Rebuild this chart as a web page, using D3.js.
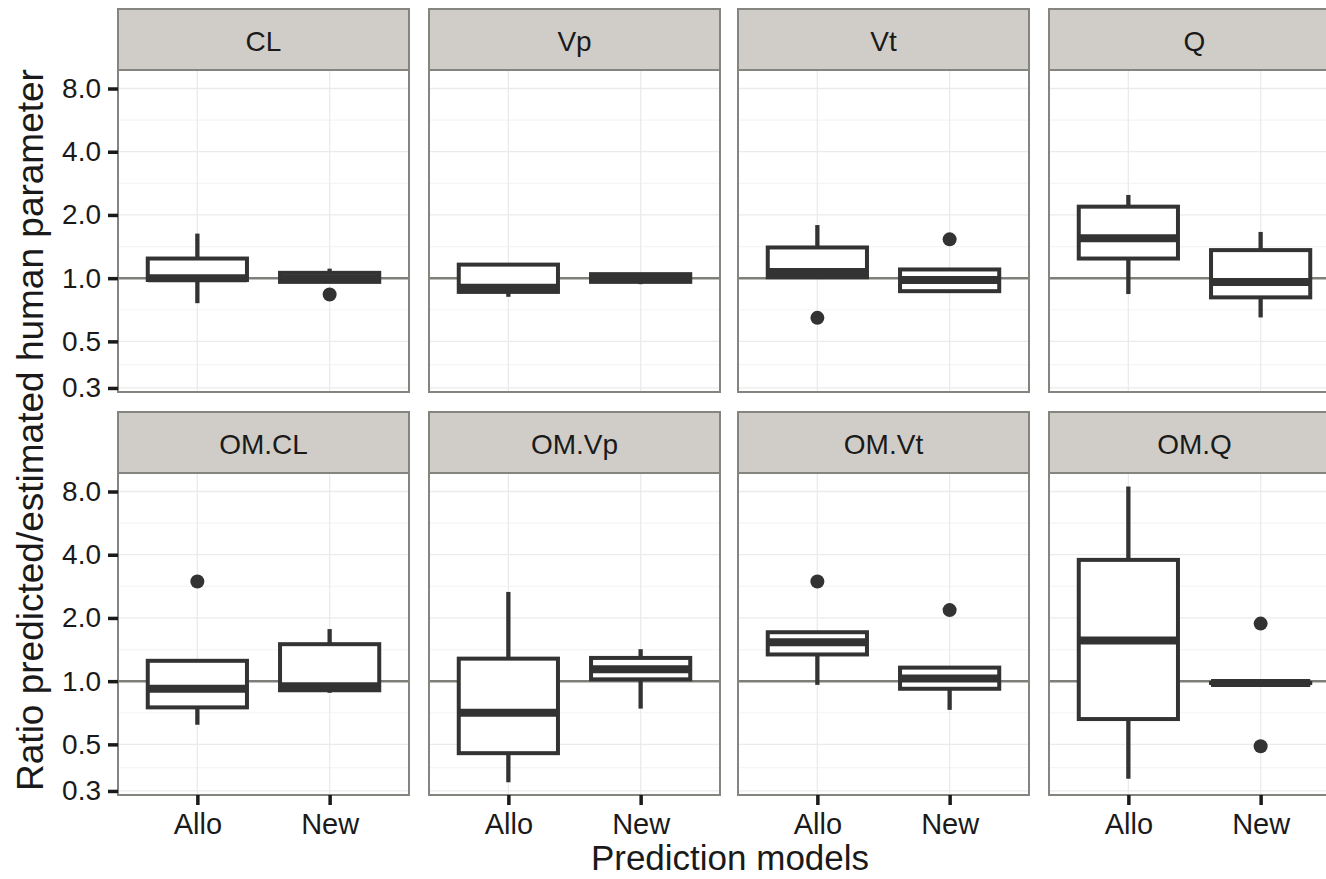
<!DOCTYPE html>
<meta charset="utf-8">
<style>
body { margin: 0; background: #fff; }
svg { display: block; font-family: "Liberation Sans", Arial, sans-serif; }
.grid-major { stroke: #ebebeb; stroke-width: 1.3; }
.grid-minor { stroke: #f6f4f4; stroke-width: 1.2; }
.box { fill: #fff; stroke: #333; stroke-width: 4; }
.whisk { stroke: #333; stroke-width: 4.3; }
.med { stroke: #333; stroke-width: 8; }
.strip { fill: #d0cdc8; stroke: #858580; stroke-width: 2; }
.frame { fill: none; stroke: #858580; stroke-width: 2; }
</style>
<body>
<svg width="1326" height="879"></svg>
<script src="https://d3js.org/d3.v7.min.js"></script>
<script>

// facets and models
var facets = ["CL", "Vp", "Vt", "Q", "OM.CL", "OM.Vp", "OM.Vt", "OM.Q"];
var models = ["Allo", "New"];
var yBreaks = [0.3, 0.5, 1, 2, 4, 8];

// box stats per facet: [Allo, New]
var whiskLow  = [[0.76, 0.96], [0.815, 0.936], [1.01, 0.867], [0.84, 0.65],
                 [0.62, 0.88], [0.33, 0.74], [0.96, 0.73], [0.343, 0.98]];
var q1        = [[0.98, 0.96], [0.86, 0.96], [1.01, 0.867], [1.24, 0.81],
                 [0.75, 0.905], [0.454, 1.02], [1.34, 0.92], [0.66, 0.98]];
var median    = [[1.0, 1.0], [0.9, 1.0], [1.07, 0.98], [1.55, 0.96],
                 [0.92, 0.946], [0.707, 1.14], [1.53, 1.03], [1.56, 0.98]];
var q3        = [[1.24, 1.06], [1.16, 1.045], [1.40, 1.10], [2.19, 1.36],
                 [1.25, 1.50], [1.28, 1.29], [1.71, 1.16], [3.78, 0.98]];
var whiskHigh = [[1.63, 1.11], [1.16, 1.045], [1.79, 1.10], [2.49, 1.66],
                 [1.25, 1.77], [2.66, 1.42], [1.71, 1.16], [8.45, 0.98]];
var outliers  = [[[], [0.836]], [[], []], [[0.647], [1.53]], [[], []],
                 [[2.98], []], [[], []], [[2.98], [2.18]], [[], [1.88, 0.49]]];

var svg = d3.select("svg");
var panelW = 291, panelH = 322, stripH = 61;
var colX = [118, 429, 738, 1049];
var rowTop = [9, 412]; // strip top

// ggplot-like discrete expansion: 0.6 units on each side
var x = d3.scaleLinear().domain([0.4, 2.6]).range([0, panelW]);
var y = d3.scaleLog().base(2).domain([0.287, 9.8]).range([panelH, 0]);

// minor breaks halfway between majors (log space)
var minor = [];
var lb = yBreaks.map(function(d) { return Math.log2(d); });
for (var i = 0; i < lb.length - 1; i++) minor.push(Math.pow(2, (lb[i] + lb[i + 1]) / 2));
minor.push(Math.pow(2, lb[lb.length - 1] + 0.5));
minor.push(Math.pow(2, lb[0] - 0.5));

facets.forEach(function(name, fi) {
  var col = fi % 4, row = Math.floor(fi / 4);
  var gx = colX[col], gy = rowTop[row];

  svg.append("rect").attr("class", "strip")
    .attr("x", gx).attr("y", gy).attr("width", panelW).attr("height", stripH);
  svg.append("text")
    .attr("x", gx + panelW / 2).attr("y", gy + 42)
    .attr("text-anchor", "middle").attr("font-size", 28).attr("fill", "#1a1a1a")
    .text(name);

  var g = svg.append("g").attr("transform", "translate(" + gx + "," + (gy + stripH) + ")");

  g.selectAll(".grid-minor").data(minor.filter(function(d) { return y(d) > 0 && y(d) < panelH; }))
    .enter().append("line").attr("class", "grid-minor")
    .attr("x1", 0).attr("x2", panelW).attr("y1", y).attr("y2", y);
  g.selectAll(".grid-major").data(yBreaks)
    .enter().append("line").attr("class", "grid-major")
    .attr("x1", 0).attr("x2", panelW).attr("y1", y).attr("y2", y);
  g.selectAll(".grid-v").data(models)
    .enter().append("line").attr("class", "grid-major")
    .attr("x1", function(d, i) { return x(i + 1); }).attr("x2", function(d, i) { return x(i + 1); })
    .attr("y1", 0).attr("y2", panelH);

  // reference line at 1
  g.append("line").attr("x1", 0).attr("x2", panelW)
    .attr("y1", y(1)).attr("y2", y(1))
    .attr("stroke", "#7f7f7a").attr("stroke-width", 2.5);

  var bw = x(0.75) - x(0);
  models.forEach(function(m, mi) {
    var cx = x(mi + 1);
    var b = g.append("g");
    b.append("line").attr("class", "whisk")
      .attr("x1", cx).attr("x2", cx).attr("y1", y(q3[fi][mi])).attr("y2", y(whiskHigh[fi][mi]));
    b.append("line").attr("class", "whisk")
      .attr("x1", cx).attr("x2", cx).attr("y1", y(q1[fi][mi])).attr("y2", y(whiskLow[fi][mi]));
    b.append("rect").attr("class", "box")
      .attr("x", cx - bw / 2).attr("width", bw)
      .attr("y", y(q3[fi][mi])).attr("height", Math.max(0.01, y(q1[fi][mi]) - y(q3[fi][mi])));
    b.append("line").attr("class", "med")
      .attr("x1", cx - bw / 2).attr("x2", cx + bw / 2)
      .attr("y1", y(median[fi][mi])).attr("y2", y(median[fi][mi]));
    b.selectAll("circle").data(outliers[fi][mi]).enter().append("circle")
      .attr("cx", cx).attr("cy", y).attr("r", 7).attr("fill", "#333");
  });

  g.append("rect").attr("class", "frame").attr("width", panelW).attr("height", panelH);

  if (col === 0) {
    var ya = g.append("g")
      .call(d3.axisLeft(y).tickValues(yBreaks).tickFormat(d3.format(".1f")).tickSize(10).tickPadding(7));
    ya.select(".domain").remove();
    ya.selectAll("line").attr("stroke", "#1a1a1a").attr("stroke-width", 3.5);
    ya.selectAll("text").attr("font-size", 28).attr("fill", "#1a1a1a").attr("font-family", "Liberation Sans, Arial, sans-serif");
  }
  if (row === 1) {
    var xa = g.append("g").attr("transform", "translate(0," + panelH + ")")
      .call(d3.axisBottom(x).tickValues([1, 2]).tickFormat(function(d) { return models[d - 1]; }).tickSize(10).tickPadding(8));
    xa.select(".domain").remove();
    xa.selectAll("line").attr("stroke", "#1a1a1a").attr("stroke-width", 3.5);
    xa.selectAll("text").attr("font-size", 29).attr("fill", "#1a1a1a").attr("font-family", "Liberation Sans, Arial, sans-serif");
  }
});

svg.append("text")
  .attr("transform", "translate(43,430) rotate(-90)")
  .attr("text-anchor", "middle").attr("font-size", 37).attr("fill", "#1a1a1a")
  .text("Ratio predicted/estimated human parameter");

svg.append("text")
  .attr("x", 730).attr("y", 870)
  .attr("text-anchor", "middle").attr("font-size", 35).attr("fill", "#1a1a1a")
  .text("Prediction models");

</script>
</body>
